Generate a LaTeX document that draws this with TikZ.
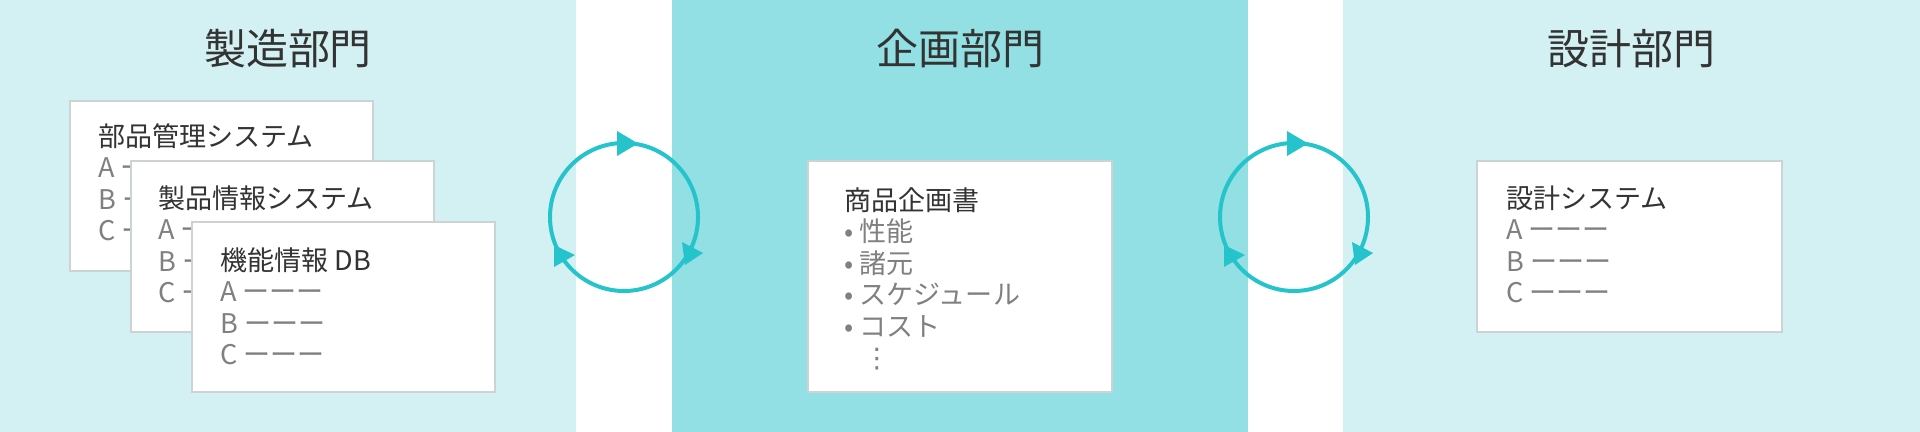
\documentclass[tikz,border=0pt]{standalone}
\usepackage{fontspec}
\setmainfont{Noto Sans CJK JP}
\newfontfamily\dotsfont{DejaVu Sans}

\definecolor{paleband}{HTML}{D3F1F3}
\definecolor{deepband}{HTML}{92E0E3}
\definecolor{cyclecol}{HTML}{25C3CC}
\definecolor{cardline}{HTML}{CDD2D5}
\definecolor{inkdark}{HTML}{333333}
\definecolor{inkgray}{HTML}{808080}

\tikzset{
  band title/.style={anchor=base, inner sep=0, text=inkdark, font=\fontsize{23.9}{28}\selectfont},
  card/.style={draw=cardline, line width=0.04cm, fill=white},
  card text/.style={anchor=base west, inner sep=0, align=left, text=inkdark, font=\fontsize{15.4}{17.9}\selectfont},
  cycle line/.style={draw=cyclecol, line width=0.08cm},
}
\newcommand{\itm}[1]{\textcolor{inkgray}{#1}}

\begin{document}
\begin{tikzpicture}[x=0.02cm, y=-0.02cm]
  \useasboundingbox (0,0) rectangle (1920,432);
  \fill[white] (0,0) rectangle (1920,432);
  \fill[paleband] (0,0) rectangle (576,432);
  \fill[deepband] (672,0) rectangle (1248,432);
  \fill[paleband] (1343,0) rectangle (1920,432);

  \node[band title] (mfgTitle) at (288,65) {製造部門};
  \node[band title] (planTitle) at (960,65) {企画部門};
  \node[band title] (designTitle) at (1631,65) {設計部門};

  \draw[card] (70,101) rectangle (373,271);
  \node[card text] (partsSys) at (98,240.5) {部品管理システム\\ \itm{A ーーー}\\ \itm{B ーーー}\\ \itm{C ーーー}};
  \draw[card] (131,161) rectangle (434,332);
  \node[card text] (prodSys) at (158,302.5) {製品情報システム\\ \itm{A ーーー}\\ \itm{B ーーー}\\ \itm{C ーーー}};
  \draw[card] (192,222) rectangle (495,392);
  \node[card text] (funcDB) at (220,364.5) {機能情報 DB\\ \itm{A ーーー}\\ \itm{B ーーー}\\ \itm{C ーーー}};

  \draw[card] (808,161) rectangle (1112,392);
  \node[card text] (planDoc) at (844,367.5) {商品企画書\\ \itm{• 性能}\\ \itm{• 諸元}\\ \itm{• スケジュール}\\ \itm{• コスト}\\ \itm{\hspace*{0.38cm}{\dotsfont ⋮}}};

  \draw[card] (1477,161) rectangle (1782,332);
  \node[card text] (designSys) at (1506,302.5) {設計システム\\ \itm{A ーーー}\\ \itm{B ーーー}\\ \itm{C ーーー}};

  \foreach \cx in {624,1294}{
    \coordinate (hub\cx) at (\cx,217);
    \draw[cycle line] (hub\cx) circle[radius=74];
    \fill[cyclecol] (\cx-7,131) -- (\cx+14,143.5) -- (\cx-7,156) -- cycle;
    \fill[cyclecol] (\cx+58,242) -- (\cx+79,253) -- (\cx+61,265) -- cycle;
    \fill[cyclecol] (\cx-70,245) -- (\cx-49,255) -- (\cx-70,267) -- cycle;
  }
\end{tikzpicture}
\end{document}
